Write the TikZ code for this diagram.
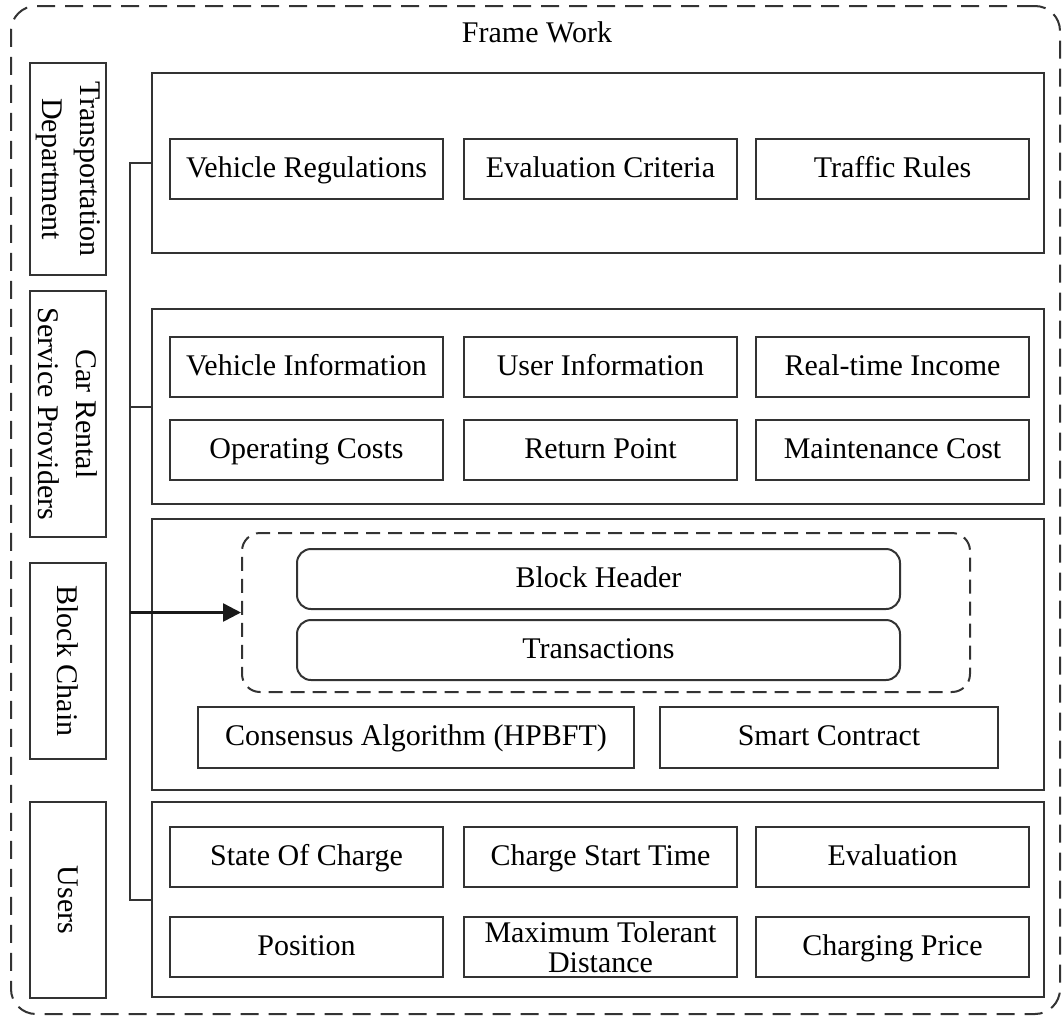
\documentclass[tikz,border=0pt]{standalone}
\usepackage{fontspec}
\setmainfont{Liberation Serif}
\usetikzlibrary{arrows.meta}
\tikzset{
    fwline/.style={draw=black!80, line width=2pt},
    itemtext/.style={fwline, inner sep=0pt, minimum width=273pt, minimum height=60pt,
        align=center, font=\fontsize{30}{30}\selectfont},
    item/.style={itemtext, text height=22pt, text depth=6pt},
    group/.style={fwline, minimum width=892pt},
    side/.style={fwline, rotate=-90, minimum height=76pt, inner sep=0pt,
        align=center, font=\fontsize{30}{38}\selectfont},
    roundbox/.style={item, rounded corners=14pt, minimum width=603pt},
}

\begin{document}
\begin{tikzpicture}[x=1pt, y=-1pt]
    \useasboundingbox (0,0) rectangle (1064,1018);
    % outer frame
    \node[draw=black!80, line width=2pt, dash pattern=on 18pt off 10pt,
        rounded corners=25pt, minimum width=1049pt, minimum height=1008pt]
        (frame) at (535.5,510) {};
    \node[font=\fontsize{30}{34}\selectfont] (title) at (537,32) {Frame Work};

    % side labels
    \node[side, minimum width=212pt] (tra) at (68,169) {Transportation\\Department};
    \node[side, minimum width=246pt] (car) at (68,414) {Car Rental\\Service Providers};
    \node[side, minimum width=196pt] (bch) at (68,661) {Block Chain};
    \node[side, minimum width=196pt] (usr) at (68,900) {Users};

    % layer boxes
    \node[group, minimum height=180pt] (g1) at (598,163) {};
    \node[group, minimum height=195pt] (g2) at (598,406.5) {};
    \node[group, minimum height=271pt] (g3) at (598,654.5) {};
    \node[group, minimum height=195pt] (g4) at (598,899.5) {};

    \foreach \n/\x/\y/\t in {
        vreg/306.5/169/Vehicle Regulations, eval/600.5/169/Evaluation Criteria,
        traf/892.5/169/Traffic Rules,
        vinf/306.5/367/Vehicle Information, uinf/600.5/367/User Information,
        rinc/892.5/367/Real-time Income,
        opc/306.5/450/Operating Costs, rpt/600.5/450/Return Point,
        mnt/892.5/450/Maintenance Cost,
        soc/306.5/857/State Of Charge, cst/600.5/857/Charge Start Time,
        uev/892.5/857/Evaluation,
        pos/306.5/947/Position, cpr/892.5/947/Charging Price} {
        \node[item] (\n) at (\x,\y) {\t};
    }
    \node[itemtext] (mtd) at (600.5,947) {Maximum Tolerant\\Distance};

    % block structure
    \node[fwline, dash pattern=on 14pt off 8pt, rounded corners=18pt,
        minimum width=728pt, minimum height=159pt] (blk) at (606,612.5) {};
    \node[roundbox] (hdr) at (598.5,579) {Block Header};
    \node[roundbox] (txs) at (598.5,650) {Transactions};
    \node[item, minimum width=436pt, minimum height=61pt] (cons) at (416,737.5)
        {Consensus Algorithm (HPBFT)};
    \node[item, minimum width=338pt, minimum height=61pt] (smc) at (829,737.5)
        {Smart Contract};

    % bus line
    \coordinate (bus) at (130,0);
    \draw[fwline] (g1.west) -- (g1.west -| bus) -- (g4.west -| bus) -- (g4.west);
    \draw[fwline] (g2.west -| bus) -- (g2.west);
    \draw[fwline, draw=black!90, line width=2.6pt, -{Triangle[length=18pt, width=18pt]}]
        (blk.west -| bus) -- (blk.west);
\end{tikzpicture}
\end{document}
